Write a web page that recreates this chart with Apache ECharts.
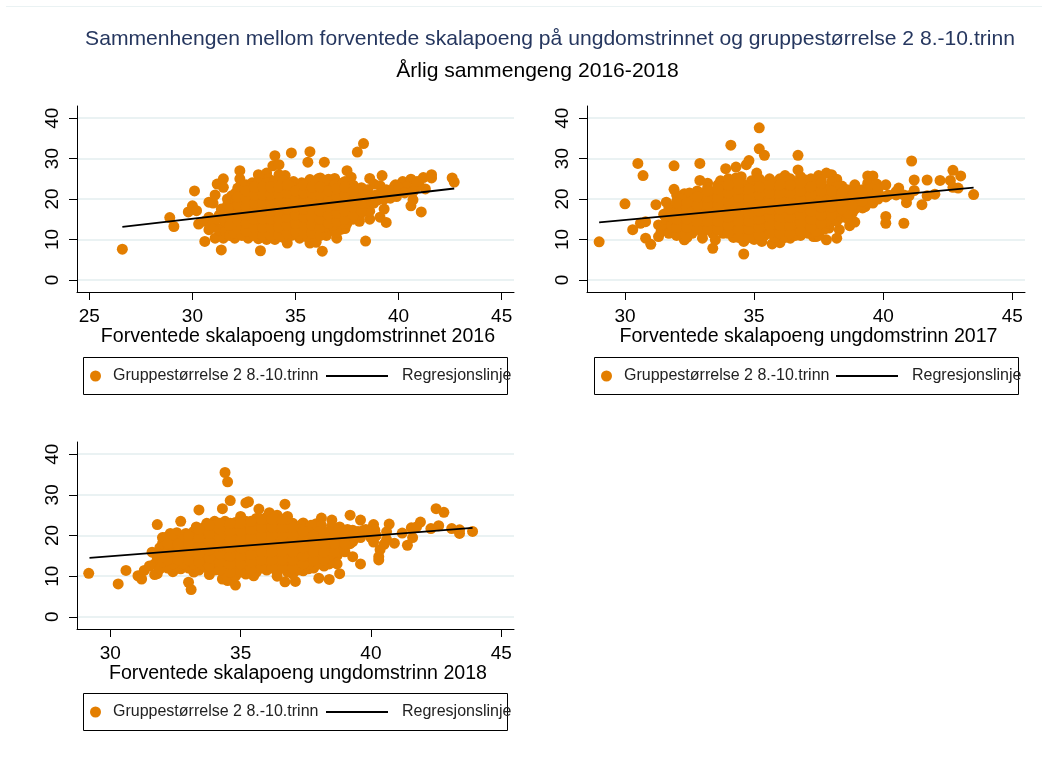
<!DOCTYPE html>
<html>
<head>
<meta charset="utf-8">
<title>Forventede skalapoeng og gruppestørrelse</title>
<script src="https://cdn.jsdelivr.net/npm/echarts@6/dist/echarts.min.js"></script>
<style>
  html, body { margin: 0; padding: 0; background: #fff; }
  #chart { width: 1048px; height: 771px; }
</style>
</head>
<body>
<div id="chart"></div>
<script>
const titleMain = 'Sammenhengen mellom forventede skalapoeng på ungdomstrinnet og gruppestørrelse 2 8.-10.trinn';
const titleSub = 'Årlig sammengeng 2016-2018';
const scatterName = 'Gruppestørrelse 2 8.-10.trinn';
const lineName = 'Regresjonslinje';

const yTicks = [0, 10, 20, 30, 40];
const xTicks2016 = [25, 30, 35, 40, 45];
const xTicks2017 = [30, 35, 40, 45];
const xTicks2018 = [30, 35, 40, 45];

const xName2016 = 'Forventede skalapoeng ungdomstrinnet 2016';
const xName2017 = 'Forventede skalapoeng ungdomstrinn 2017';
const xName2018 = 'Forventede skalapoeng ungdomstrinn 2018';

const line2016 = [[26.6, 13.1], [42.7, 22.6]];
const line2017 = [[29.0, 14.2], [43.5, 22.8]];
const line2018 = [[29.2, 14.5], [43.9, 21.9]];

// points, the loose ones one by one, the dense middle estimated
const outer2016 = [
  [26.6,7.6],[28.9,15.4],[29.1,13.2],[29.8,16.8],[30.0,18.3],[30.1,22.0],[30.2,17.1],[30.3,13.8],[30.6,9.5],
  [30.8,15.5],[30.8,19.2],[31.0,19.0],[31.1,21.0],[31.2,23.7],[31.5,25.0],[31.5,22.9],[31.1,10.3],[31.5,10.3],
  [31.4,7.4],[30.8,12.4],[32.3,27.0],[32.3,25.0],[32.2,22.7],[32.05,10.3],[32.7,10.3],[33.3,7.2],[33.2,26.0],
  [33.6,26.4],[33.9,28.2],[34.0,30.7],[34.2,28.5],[34.8,31.4],[35.7,31.7],[35.6,29.1],[36.4,29.1],[34.5,25.8],
  [34.6,9.1],[35.2,10.3],[35.7,9.1],[36.0,9.3],[36.3,7.1],[36.45,12.0],[37.0,10.3],[37.4,12.7],[38.0,31.6],
  [38.3,33.7],[38.4,9.6],[37.5,27.0],[37.7,25.4],[36.2,25.2],[36.6,24.9],[36.9,25.1],[38.6,25.1],[39.2,25.8],
  [38.8,23.7],[39.1,23.3],[38.6,15.0],[38.5,18.6],[38.1,15.7],[39.3,17.5],[39.1,15.5],[39.4,14.2],[39.0,19.8],
  [39.5,21.2],[39.8,23.1],[39.9,20.6],[40.2,24.3],[40.6,24.9],[40.6,18.3],[40.7,19.8],[41.1,16.8],[41.2,25.3],
  [41.3,22.5],[41.6,26.0],[41.6,25.2],[42.6,25.2],[42.7,24.2],[40.4,23.1],[39.85,23.5],[40.1,21.9],[38.2,21.5],
  [38.6,20.8],[39.2,21.6],[40.8,22.6]
];
const edge2016 = [
  [30.6,14.5],[31.0,14.0],[31.3,16.0],[31.1,13.0],[31.3,12.3],[31.5,13.0],[31.6,12.0],[31.8,11.0],[31.2,15.0],
  [31.4,17.5],[31.7,20.0],[31.9,20.8],[32.1,21.5],[32.6,23.5],[32.9,24.0],[33.3,25.0],[33.7,25.0],[34.2,26.0],
  [34.9,24.3],[35.3,24.0],[35.7,24.8],[36.1,25.0],[37.0,24.0],[37.4,24.3],[37.8,23.4],[38.2,22.8],[38.5,22.3],
  [36.7,12.2],[36.9,13.0],[37.2,12.5],[37.5,14.0],[37.8,15.0],[38.1,14.5],[38.3,17.0],[38.6,17.0],[38.8,19.0],
  [37.0,11.8],[36.5,11.0],[38.9,21.0],[39.3,20.0],[39.6,20.2],[39.4,22.3],[39.7,22.0],[40.0,22.8],[40.3,21.5],
  [40.7,21.8],[41.0,23.5],[40.9,24.3],[38.9,20.0]
];
const inner2016 = [
  [31.6,14.5],[31.6,16.5],[31.7,18.5],[32.0,11.5],[32.0,13.5],[32.1,15.5],[32.0,17.5],[32.1,19.5],
  [32.4,11.0],[32.4,13.0],[32.5,15.0],[32.4,17.0],[32.4,19.0],[32.5,21.0],
  [32.8,11.0],[32.8,13.0],[32.9,15.0],[32.8,17.0],[32.8,19.0],[32.9,21.0],[32.8,23.0],
  [33.2,10.2],[33.2,12.2],[33.3,14.2],[33.2,16.2],[33.2,18.2],[33.3,20.2],[33.2,22.2],[33.2,24.0],
  [33.6,10.0],[33.6,12.0],[33.7,14.0],[33.6,16.0],[33.6,18.0],[33.7,20.0],[33.6,22.0],[33.6,24.0],
  [34.0,10.0],[34.0,12.0],[34.1,14.0],[34.0,16.0],[34.0,18.0],[34.1,20.0],[34.0,22.0],[34.0,24.5],
  [34.4,10.5],[34.4,12.5],[34.5,14.5],[34.4,16.5],[34.4,18.5],[34.5,20.5],[34.4,22.5],[34.4,24.5],
  [34.8,11.0],[34.8,13.0],[34.9,15.0],[34.8,17.0],[34.8,19.0],[34.9,21.0],[34.8,23.0],
  [35.2,11.0],[35.2,13.0],[35.3,15.0],[35.2,17.0],[35.2,19.0],[35.3,21.0],[35.2,22.6],
  [35.6,10.5],[35.6,12.5],[35.7,14.5],[35.6,16.5],[35.6,18.5],[35.7,20.5],[35.6,22.5],[35.6,24.0],
  [36.0,10.0],[36.0,12.0],[36.1,14.0],[36.0,16.0],[36.0,18.0],[36.1,20.0],[36.0,22.0],[36.0,24.0],
  [36.4,13.0],[36.4,15.0],[36.5,17.0],[36.4,19.0],[36.4,21.0],[36.5,23.0],[36.4,24.5],
  [36.8,13.5],[36.8,15.5],[36.9,17.5],[36.8,19.5],[36.8,21.5],[36.9,23.5],
  [37.2,14.0],[37.2,16.0],[37.3,18.0],[37.2,20.0],[37.2,22.0],[37.3,24.0],
  [37.6,15.0],[37.6,17.0],[37.7,19.0],[37.6,21.0],[37.6,23.0],
  [38.0,16.0],[38.0,18.0],[38.1,20.0],[38.0,22.0],[38.4,19.0],[38.4,21.0]
];
const mid2016 = [
  [31.8,13.5],[31.8,15.5],[31.8,17.5],[32.2,12.5],[32.2,14.5],[32.2,16.5],[32.2,18.5],[32.2,20.5],
  [32.6,12.0],[32.6,14.0],[32.6,16.0],[32.6,18.0],[32.6,20.0],[32.6,22.0],
  [33.0,11.0],[33.0,13.0],[33.0,15.0],[33.0,17.0],[33.0,19.0],[33.0,21.0],[33.0,23.0],
  [33.4,11.0],[33.4,13.0],[33.4,15.0],[33.4,17.0],[33.4,19.0],[33.4,21.0],[33.4,23.0],
  [33.8,11.0],[33.8,13.0],[33.8,15.0],[33.8,17.0],[33.8,19.0],[33.8,21.0],[33.8,23.0],
  [34.2,11.0],[34.2,13.0],[34.2,15.0],[34.2,17.0],[34.2,19.0],[34.2,21.0],[34.2,23.0],
  [34.6,11.5],[34.6,13.5],[34.6,15.5],[34.6,17.5],[34.6,19.5],[34.6,21.5],[34.6,23.5],
  [35.0,12.0],[35.0,14.0],[35.0,16.0],[35.0,18.0],[35.0,20.0],[35.0,22.0],
  [35.4,11.5],[35.4,13.5],[35.4,15.5],[35.4,17.5],[35.4,19.5],[35.4,21.5],[35.4,23.5],
  [35.8,11.5],[35.8,13.5],[35.8,15.5],[35.8,17.5],[35.8,19.5],[35.8,21.5],[35.8,23.0],
  [36.2,11.0],[36.2,13.0],[36.2,15.0],[36.2,17.0],[36.2,19.0],[36.2,21.0],[36.2,23.0],
  [36.6,14.0],[36.6,16.0],[36.6,18.0],[36.6,20.0],[36.6,22.0],
  [37.0,14.5],[37.0,16.5],[37.0,18.5],[37.0,20.5],[37.0,22.5],
  [37.4,15.0],[37.4,17.0],[37.4,19.0],[37.4,21.0],[37.4,23.0],
  [37.8,16.0],[37.8,18.0],[37.8,20.0],[37.8,22.0],[38.2,17.0],[38.2,19.0]
];

const outer2017 = [
  [29.0,9.4],[30.0,18.8],[30.3,12.4],[30.5,28.8],[30.7,25.8],[30.6,14.0],[30.8,14.4],[30.8,10.3],[31.0,8.8],
  [31.2,18.6],[31.3,13.6],[31.3,10.7],[31.6,19.2],[31.5,16.2],[31.9,28.2],[31.9,22.4],[32.0,19.4],[32.3,21.3],
  [32.3,9.9],[31.9,12.4],[32.7,20.2],[32.9,28.8],[32.9,24.6],[33.2,23.9],[33.0,10.3],[33.4,7.8],[33.5,9.9],
  [33.9,27.5],[34.1,33.3],[34.3,27.9],[34.3,25.2],[34.7,28.5],[34.8,29.5],[34.6,6.4],[35.1,26.4],[35.2,37.6],
  [35.2,32.4],[35.4,30.8],[35.3,9.5],[35.7,8.9],[36.0,9.2],[36.2,25.8],[36.4,10.3],[36.7,30.8],[36.7,27.2],
  [37.0,24.7],[37.5,25.8],[37.8,26.4],[38.0,26.0],[38.2,24.9],[37.3,10.7],[37.4,10.7],[37.8,9.9],[37.9,12.8],
  [38.3,12.4],[38.2,10.3],[38.5,21.9],[38.7,13.4],[38.9,14.3],[38.8,16.5],[38.9,23.5],[39.4,25.7],[39.6,25.7],
  [39.4,23.9],[39.75,23.7],[40.1,23.5],[40.1,15.7],[40.1,14.0],[39.6,19.4],[39.3,18.1],[40.2,21.0],[40.6,22.7],
  [40.5,21.0],[40.8,14.0],[40.9,19.1],[41.1,29.4],[41.2,24.7],[41.2,22.1],[41.5,18.6],[41.7,20.8],[41.7,24.7],
  [42.0,21.2],[42.2,24.6],[42.6,24.6],[42.7,27.1],[42.7,22.9],[42.9,22.7],[43.0,25.7],[43.5,21.1]
];
const edge2017 = [
  [31.4,12.0],[31.6,13.5],[31.6,15.0],[31.7,11.5],[32.0,11.0],[32.4,10.5],[31.7,17.8],[32.0,21.0],[32.5,21.5],
  [32.8,22.0],[33.2,22.8],[33.6,23.5],[33.7,24.5],[34.0,25.0],[34.5,25.5],[34.9,24.5],[35.2,25.0],[35.6,25.0],
  [36.0,25.0],[36.4,25.0],[36.8,25.5],[37.2,25.0],[37.6,24.8],[38.0,24.2],[38.4,23.2],[38.6,22.3],[38.9,21.5],
  [39.2,22.3],[39.5,22.5],[39.8,22.5],[39.6,21.0],[39.9,20.8],[40.1,20.5],[40.5,21.8],[40.8,21.0],[41.0,20.8],
  [37.5,11.0],[37.1,11.5],[36.8,11.0],[36.4,11.3],[37.7,12.5],[37.9,14.0],[38.2,14.5],[38.4,15.5],[38.6,15.3],
  [38.9,17.5],[39.2,17.8],[39.6,19.0],[39.8,20.0]
];
const inner2017 = [
  [31.8,13.5],[31.8,15.5],[31.8,17.5],[32.2,12.0],[32.2,14.0],[32.3,16.0],[32.2,18.0],[32.2,20.0],
  [32.6,11.5],[32.6,13.5],[32.7,15.5],[32.6,17.5],[32.6,19.5],
  [33.0,11.5],[33.0,13.5],[33.1,15.5],[33.0,17.5],[33.0,19.5],[33.1,21.5],
  [33.4,11.5],[33.4,13.5],[33.5,15.5],[33.4,17.5],[33.4,19.5],[33.5,21.5],
  [33.8,11.5],[33.8,13.5],[33.9,15.5],[33.8,17.5],[33.8,19.5],[33.9,21.5],[33.8,23.0],
  [34.2,10.5],[34.2,12.5],[34.3,14.5],[34.2,16.5],[34.2,18.5],[34.3,20.5],[34.2,22.5],[34.2,24.0],
  [34.6,9.5],[34.6,11.5],[34.7,13.5],[34.6,15.5],[34.6,17.5],[34.7,19.5],[34.6,21.5],[34.6,23.5],
  [35.0,10.0],[35.0,12.0],[35.1,14.0],[35.0,16.0],[35.0,18.0],[35.1,20.0],[35.0,22.0],[35.0,23.0],
  [35.4,11.0],[35.4,13.0],[35.5,15.0],[35.4,17.0],[35.4,19.0],[35.5,21.0],[35.4,23.0],[35.4,24.0],
  [35.8,10.5],[35.8,12.5],[35.9,14.5],[35.8,16.5],[35.8,18.5],[35.9,20.5],[35.8,22.5],[35.8,24.0],
  [36.2,10.5],[36.2,12.5],[36.3,14.5],[36.2,16.5],[36.2,18.5],[36.3,20.5],[36.2,22.5],[36.2,24.0],
  [36.6,11.0],[36.6,13.0],[36.7,15.0],[36.6,17.0],[36.6,19.0],[36.7,21.0],[36.6,23.0],[36.6,24.0],
  [37.0,12.0],[37.0,14.0],[37.1,16.0],[37.0,18.0],[37.0,20.0],[37.1,22.0],[37.0,23.5],
  [37.4,12.0],[37.4,14.0],[37.5,16.0],[37.4,18.0],[37.4,20.0],[37.5,22.0],[37.4,23.5],
  [37.8,14.5],[37.8,16.5],[37.9,18.5],[37.8,20.5],[37.8,22.5],[38.2,17.0],[38.2,19.0],[38.3,21.0],[38.2,23.0],
  [38.6,16.5],[38.6,18.5],[38.7,20.5],[39.0,18.0],[39.0,20.0],[39.1,22.0],[39.4,19.0],[39.4,21.0]
];
const mid2017 = [
  [32.0,13.0],[32.0,15.0],[32.0,17.0],[32.0,19.0],[32.4,13.0],[32.4,15.0],[32.4,17.0],[32.4,19.0],
  [32.8,12.5],[32.8,14.5],[32.8,16.5],[32.8,18.5],[32.8,20.5],
  [33.2,12.5],[33.2,14.5],[33.2,16.5],[33.2,18.5],[33.2,20.5],[33.2,22.0],
  [33.6,12.5],[33.6,14.5],[33.6,16.5],[33.6,18.5],[33.6,20.5],[33.6,22.5],
  [34.0,11.5],[34.0,13.5],[34.0,15.5],[34.0,17.5],[34.0,19.5],[34.0,21.5],[34.0,23.5],
  [34.4,10.5],[34.4,12.5],[34.4,14.5],[34.4,16.5],[34.4,18.5],[34.4,20.5],[34.4,22.5],[34.4,24.0],
  [34.8,10.5],[34.8,12.5],[34.8,14.5],[34.8,16.5],[34.8,18.5],[34.8,20.5],[34.8,22.5],
  [35.2,11.0],[35.2,13.0],[35.2,15.0],[35.2,17.0],[35.2,19.0],[35.2,21.0],[35.2,23.0],
  [35.6,11.5],[35.6,13.5],[35.6,15.5],[35.6,17.5],[35.6,19.5],[35.6,21.5],[35.6,23.5],
  [36.0,11.5],[36.0,13.5],[36.0,15.5],[36.0,17.5],[36.0,19.5],[36.0,21.5],[36.0,23.5],
  [36.4,11.5],[36.4,13.5],[36.4,15.5],[36.4,17.5],[36.4,19.5],[36.4,21.5],[36.4,23.5],
  [36.8,12.0],[36.8,14.0],[36.8,16.0],[36.8,18.0],[36.8,20.0],[36.8,22.0],[36.8,24.0],
  [37.2,13.0],[37.2,15.0],[37.2,17.0],[37.2,19.0],[37.2,21.0],[37.2,23.0],
  [37.6,14.0],[37.6,16.0],[37.6,18.0],[37.6,20.0],[37.6,22.0],[37.6,24.0],
  [38.0,16.0],[38.0,18.0],[38.0,20.0],[38.0,22.0],[38.4,17.5],[38.4,19.5],[38.4,21.5],
  [38.8,18.5],[38.8,20.5],[39.2,19.5],[39.2,21.5]
];

const outer2018 = [
  [29.17,10.7],[30.3,8.1],[30.6,11.4],[31.06,10.1],[31.2,9.3],[31.3,11.4],[31.6,15.9],[31.7,10.4],[31.8,10.6],
  [32.0,12.8],[31.8,22.7],[32.0,19.5],[32.3,20.5],[32.55,20.7],[32.7,23.5],[32.4,11.1],[32.7,11.8],[33.0,8.5],
  [33.1,6.7],[33.2,11.0],[33.3,22.1],[33.4,26.3],[33.8,10.4],[33.9,22.9],[34.3,26.6],[34.4,35.5],[34.5,33.2],
  [34.6,28.6],[34.5,22.9],[34.3,9.3],[34.5,8.9],[34.8,7.8],[35.0,24.7],[35.2,28.0],[35.3,28.3],[35.5,10.1],
  [35.7,26.5],[35.6,24.2],[36.1,25.6],[36.4,10.0],[36.7,27.7],[36.8,24.7],[36.7,8.6],[37.1,8.7],[37.4,23.1],
  [37.6,11.8],[37.9,22.9],[38.1,24.3],[38.0,9.5],[38.4,9.2],[38.5,23.8],[38.8,10.6],[38.7,13.0],[38.7,15.1],
  [38.8,22.1],[39.2,25.0],[39.3,14.8],[39.6,13.0],[39.6,23.8],[39.3,21.3],[40.1,22.7],[40.15,21.3],[40.1,18.4],
  [40.3,14.8],[40.3,14.0],[40.5,17.8],[40.35,16.5],[40.7,22.8],[40.6,20.9],[40.9,18.1],[41.2,20.6],[41.4,17.6],
  [41.6,19.5],[41.55,21.9],[41.9,23.3],[41.75,22.1],[42.3,21.7],[42.5,26.6],[42.6,22.4],[42.8,25.7],[43.1,21.7],
  [43.4,21.4],[43.4,20.5],[43.9,21.0],[39.7,21.2],[40.0,20.0]
];
const edge2018 = [
  [31.5,12.5],[31.7,13.0],[31.8,14.5],[31.9,17.0],[32.0,18.0],[32.1,19.5],[32.4,20.0],[32.6,19.8],[32.9,20.5],
  [33.3,21.8],[33.7,23.0],[34.0,23.5],[34.4,23.5],[34.8,23.2],[35.2,23.5],[35.6,24.0],[36.0,24.5],[36.4,25.0],
  [36.7,24.0],[37.0,23.0],[37.3,22.5],[37.7,22.5],[38.1,22.5],[38.5,22.3],[38.8,21.5],[39.1,21.5],[39.5,21.0],
  [39.8,21.5],[31.9,11.8],[32.2,12.0],[32.6,12.5],[33.0,12.0],[33.4,11.5],[33.8,11.3],[37.0,10.5],[37.4,11.3],
  [37.8,12.0],[38.2,12.5],[38.4,14.0],[38.7,16.0],[38.9,17.5],[39.0,16.0],[39.3,18.5],[39.6,19.5],[40.0,19.5],
  [40.2,20.0],[40.6,19.0]
];
const inner2018 = [
  [32.0,13.5],[32.0,15.5],[32.1,17.5],[32.4,13.0],[32.4,15.0],[32.5,17.0],[32.4,19.0],
  [32.8,13.0],[32.8,15.0],[32.9,17.0],[32.8,19.0],
  [33.2,13.0],[33.2,15.0],[33.3,17.0],[33.2,19.0],[33.2,21.0],
  [33.6,12.5],[33.6,14.5],[33.7,16.5],[33.6,18.5],[33.6,20.5],[33.6,22.0],
  [34.0,11.5],[34.0,13.5],[34.1,15.5],[34.0,17.5],[34.0,19.5],[34.1,21.5],[34.0,22.5],
  [34.4,10.5],[34.4,12.5],[34.5,14.5],[34.4,16.5],[34.4,18.5],[34.5,20.5],[34.4,22.5],
  [34.8,10.0],[34.8,12.0],[34.9,14.0],[34.8,16.0],[34.8,18.0],[34.9,20.0],[34.8,22.0],
  [35.2,10.5],[35.2,12.5],[35.3,14.5],[35.2,16.5],[35.2,18.5],[35.3,20.5],[35.2,22.5],
  [35.6,11.0],[35.6,13.0],[35.7,15.0],[35.6,17.0],[35.6,19.0],[35.7,21.0],[35.6,23.0],
  [36.0,11.5],[36.0,13.5],[36.1,15.5],[36.0,17.5],[36.0,19.5],[36.1,21.5],[36.0,23.5],
  [36.4,11.0],[36.4,13.0],[36.5,15.0],[36.4,17.0],[36.4,19.0],[36.5,21.0],[36.4,23.0],[36.4,24.0],
  [36.8,11.0],[36.8,13.0],[36.9,15.0],[36.8,17.0],[36.8,19.0],[36.9,21.0],[36.8,23.0],
  [37.2,11.5],[37.2,13.5],[37.3,15.5],[37.2,17.5],[37.2,19.5],[37.3,21.5],
  [37.6,13.0],[37.6,15.0],[37.7,17.0],[37.6,19.0],[37.6,21.0],
  [38.0,13.0],[38.0,15.0],[38.1,17.0],[38.0,19.0],[38.0,21.0],
  [38.4,13.0],[38.4,15.0],[38.5,17.0],[38.4,19.0],[38.4,21.0],[38.8,17.0],[38.8,19.0],[38.9,21.0],
  [39.2,18.0],[39.2,20.0]
];
const mid2018 = [
  [32.2,14.0],[32.2,16.0],[32.2,18.0],[32.6,14.0],[32.6,16.0],[32.6,18.0],
  [33.0,14.0],[33.0,16.0],[33.0,18.0],[33.0,20.0],
  [33.4,13.5],[33.4,15.5],[33.4,17.5],[33.4,19.5],[33.4,21.5],
  [33.8,12.5],[33.8,14.5],[33.8,16.5],[33.8,18.5],[33.8,20.5],[33.8,22.5],
  [34.2,11.5],[34.2,13.5],[34.2,15.5],[34.2,17.5],[34.2,19.5],[34.2,21.5],[34.2,23.0],
  [34.6,11.0],[34.6,13.0],[34.6,15.0],[34.6,17.0],[34.6,19.0],[34.6,21.0],[34.6,23.0],
  [35.0,11.0],[35.0,13.0],[35.0,15.0],[35.0,17.0],[35.0,19.0],[35.0,21.0],[35.0,23.0],
  [35.4,11.5],[35.4,13.5],[35.4,15.5],[35.4,17.5],[35.4,19.5],[35.4,21.5],[35.4,23.5],
  [35.8,12.0],[35.8,14.0],[35.8,16.0],[35.8,18.0],[35.8,20.0],[35.8,22.0],[35.8,24.0],
  [36.2,12.0],[36.2,14.0],[36.2,16.0],[36.2,18.0],[36.2,20.0],[36.2,22.0],[36.2,24.0],
  [36.6,12.0],[36.6,14.0],[36.6,16.0],[36.6,18.0],[36.6,20.0],[36.6,22.0],[36.6,24.0],
  [37.0,12.0],[37.0,14.0],[37.0,16.0],[37.0,18.0],[37.0,20.0],[37.0,22.0],
  [37.4,13.0],[37.4,15.0],[37.4,17.0],[37.4,19.0],[37.4,21.0],
  [37.8,14.0],[37.8,16.0],[37.8,18.0],[37.8,20.0],[38.2,14.0],[38.2,16.0],[38.2,18.0],[38.2,20.0],
  [38.6,16.0],[38.6,18.0],[38.6,20.0],[39.0,18.0],[39.0,20.0]
];

const ORANGE = '#e37e00';
const FONT = '"Liberation Sans", Arial, sans-serif';

// one panel's pixel layout: plot box and legend pieces
const panels = [
  { grid: { left: 77, top: 106, width: 437, height: 186 }, xMin: 24.4, xMax: 45.6, ticks: xTicks2016, name: xName2016,
    points: outer2016.concat(edge2016, inner2016, mid2016), line: line2016,
    box: [83, 357, 424, 37], dot: 90, lineLeft: 326 },
  { grid: { left: 587, top: 106, width: 438, height: 186 }, xMin: 28.53, xMax: 45.49, ticks: xTicks2017, name: xName2017,
    points: outer2017.concat(edge2017, inner2017, mid2017), line: line2017,
    box: [594, 357, 424, 37], dot: 601, lineLeft: 836 },
  { grid: { left: 77, top: 442, width: 437, height: 187 }, xMin: 28.72, xMax: 45.49, ticks: xTicks2018, name: xName2018,
    points: outer2018.concat(edge2018, inner2018, mid2018), line: line2018,
    box: [83, 693, 424, 37], dot: 90, lineLeft: 326 }
];

const chart = echarts.init(document.getElementById('chart'), null, { renderer: 'canvas' });

let option = {
  animation: false,
  backgroundColor: '#fff',
  title: [
    { text: titleMain, left: 545, top: 24, textAlign: 'center', textStyle: { color: '#26375f', fontFamily: FONT, fontSize: 21.1, fontWeight: 'normal' } },
    { text: titleSub, left: 532.5, top: 56, textAlign: 'center', textStyle: { color: '#000', fontFamily: FONT, fontSize: 21.1, fontWeight: 'normal' } }
  ],
  grid: [], xAxis: [], yAxis: [], series: [], legend: [],
  graphic: [{
    type: 'line', silent: true, z: 0,
    shape: { x1: 6, y1: 6.5, x2: 1042, y2: 6.5 },
    style: { stroke: '#eaf2f3', lineWidth: 1 }
  }]
};

panels.forEach((p, i) => {
  option.grid.push(p.grid);
  option.xAxis.push({
    gridIndex: i, type: 'value', min: p.xMin, max: p.xMax,
    name: p.name, nameLocation: 'middle', nameGap: 34,
    nameTextStyle: { color: '#000', fontFamily: FONT, fontSize: 19.6, padding: [0, 0, 0, 5] },
    axisLine: { onZero: false, lineStyle: { color: '#000', width: 1 } },
    axisTick: { length: 8, lineStyle: { color: '#000', width: 1 }, customValues: p.ticks },
    axisLabel: { color: '#000', fontFamily: FONT, fontSize: 19, margin: 15, customValues: p.ticks, hideOverlap: false, showMinLabel: true, showMaxLabel: true },
    splitLine: { show: false }
  });
  option.yAxis.push({
    gridIndex: i, type: 'value', min: -3, max: 43,
    axisLine: { onZero: false, lineStyle: { color: '#000', width: 1 } },
    axisTick: { length: 8, lineStyle: { color: '#000', width: 1 }, customValues: yTicks },
    axisLabel: { color: '#000', fontFamily: FONT, fontSize: 19, margin: 15, rotate: 90, customValues: yTicks },
    splitLine: { show: true, lineStyle: { color: '#eaf2f3', width: 2 } }
  });
  option.series.push({
    name: scatterName, type: 'scatter', xAxisIndex: i, yAxisIndex: i,
    data: p.points, symbol: 'circle', symbolSize: 11,
    itemStyle: { color: ORANGE, opacity: 1 }, z: 2
  });
  option.series.push({
    name: lineName, type: 'line', xAxisIndex: i, yAxisIndex: i,
    data: p.line, symbol: 'none', lineStyle: { color: '#000', width: 1.8 },
    itemStyle: { color: '#000' }, z: 3
  });
  const legendTop = p.box[1] + 11;
  option.legend.push({
    data: [{ name: scatterName, icon: 'circle' }], left: p.dot, top: legendTop, padding: 0,
    itemWidth: 11, itemHeight: 11, selectedMode: false,
    textStyle: { color: '#222', fontFamily: FONT, fontSize: 16, padding: [5, 0, 0, 7] }
  });
  option.legend.push({
    data: [{ name: lineName, icon: 'rect' }], left: p.lineLeft, top: legendTop, padding: 0,
    itemWidth: 62, itemHeight: 2, symbolKeepAspect: false, selectedMode: false,
    textStyle: { color: '#222', fontFamily: FONT, fontSize: 16, padding: [5, 0, 0, 9] }
  });
  option.graphic.push({
    type: 'rect', silent: true, z: 0,
    shape: { x: p.box[0] + 0.5, y: p.box[1] + 0.5, width: p.box[2], height: p.box[3] },
    style: { fill: 'none', stroke: '#000', lineWidth: 1 }
  });
});

chart.setOption(option);
</script>
</body>
</html>
